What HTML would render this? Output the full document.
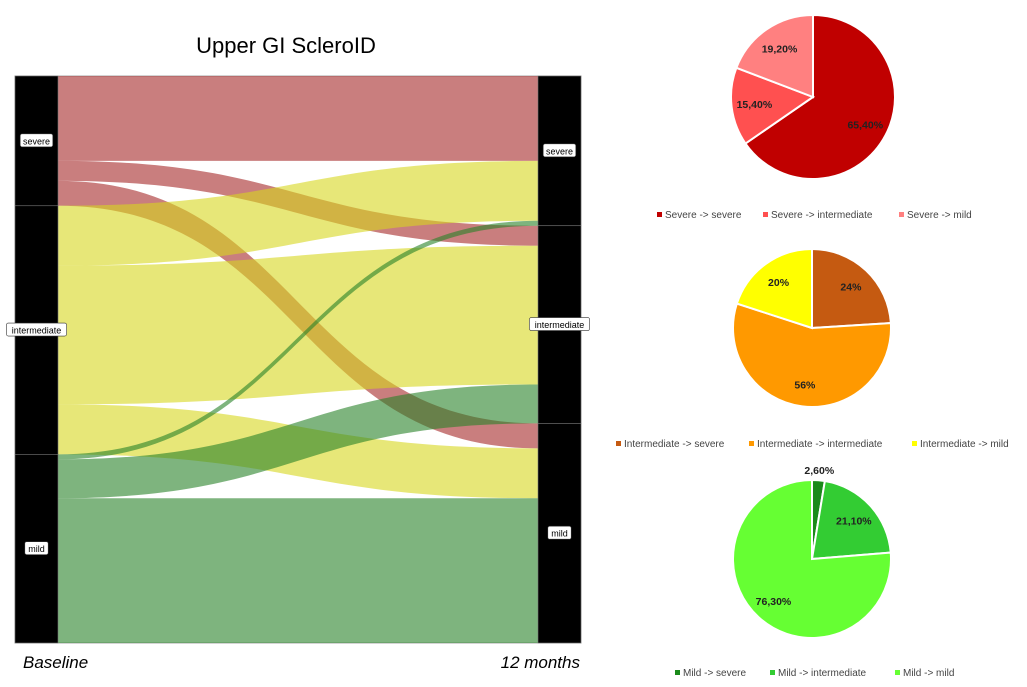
<!DOCTYPE html>
<html><head><meta charset="utf-8"><style>
body{margin:0;background:#fff;width:1027px;height:687px;overflow:hidden;font-family:"Liberation Sans",sans-serif}
svg{display:block}
</style></head><body>
<svg id="s" width="1027" height="687" xmlns="http://www.w3.org/2000/svg">
<text x="286" y="53" text-anchor="middle" font-size="22" font-family="Liberation Sans, sans-serif" fill="#000">Upper GI ScleroID</text>
<rect x="15" y="76" width="566" height="567" fill="none" stroke="#aaa" stroke-width="1"/>
<g id="flows"></g>
<g id="nodes"></g>
<text x="23" y="668" font-size="17" font-style="italic" font-family="Liberation Sans, sans-serif">Baseline</text>
<text x="580" y="668" text-anchor="end" font-size="17" font-style="italic" font-family="Liberation Sans, sans-serif">12 months</text>
<g id="pies"></g>
</svg>
<script>
// Sankey data (patients, in flow units)
const stages = ["severe","intermediate","mild"];
const flowFrom = ["severe","severe","severe","intermediate","intermediate","intermediate","mild","mild","mild"];
const flowTo   = ["severe","intermediate","mild","severe","intermediate","mild","severe","intermediate","mild"];
const flowValues = [85,20,25,60,139,50,5,39,145];
// Pie data
const pieTitles = ["severe","intermediate","mild"];
const pie1Values = [65.4,15.4,19.2];
const pie2Values = [24,56,20];
const pie3Values = [2.6,21.1,76.3];
const pie1Labels = ["65,40%","15,40%","19,20%"];
const pie2Labels = ["24%","56%","20%"];
const pie3Labels = ["2,60%","21,10%","76,30%"];
const pie1Legend = ["Severe -> severe","Severe -> intermediate","Severe -> mild"];
const pie2Legend = ["Intermediate -> severe","Intermediate -> intermediate","Intermediate -> mild"];
const pie3Legend = ["Mild -> severe","Mild -> intermediate","Mild -> mild"];

const NS="http://www.w3.org/2000/svg";
function mk(t,a,p){const e=document.createElementNS(NS,t);for(const k in a)e.setAttribute(k,a[k]);p.appendChild(e);return e;}
const top0=76,bot0=643,xL=58,xR=538;
const total=flowValues.reduce((a,b)=>a+b,0);
const sc=(bot0-top0)/total;
const leftTot={},rightTot={};
stages.forEach(s=>{leftTot[s]=0;rightTot[s]=0;});
flowValues.forEach((v,i)=>{leftTot[flowFrom[i]]+=v;rightTot[flowTo[i]]+=v;});
const leftY={},rightY={};let yl=top0,yr=top0;
stages.forEach(s=>{leftY[s]=yl;yl+=leftTot[s]*sc;rightY[s]=yr;yr+=rightTot[s]*sc;});
const colors={severe:"rgba(165,40,40,0.6)",intermediate:"rgba(215,215,30,0.6)",mild:"rgba(40,130,40,0.6)"};
const lc={},rc={};stages.forEach(s=>{lc[s]=leftY[s];rc[s]=rightY[s];});
const fg=document.getElementById('flows');
const order=[];stages.forEach(t=>flowValues.forEach((v,i)=>{if(flowTo[i]===t)order.push(i);}));
const rStart={};order.forEach(i=>{rStart[i]=rc[flowTo[i]];rc[flowTo[i]]+=flowValues[i]*sc;});
flowValues.forEach((v,i)=>{
  const h=v*sc,y0=lc[flowFrom[i]];lc[flowFrom[i]]+=h;const y1=rStart[i];
  const mx=(xL+xR)/2;
  const d=`M${xL},${y0} C${mx},${y0} ${mx},${y1} ${xR},${y1} L${xR},${y1+h} C${mx},${y1+h} ${mx},${y0+h} ${xL},${y0+h} Z`;
  const p=mk('path',{d:d,fill:colors[flowFrom[i]]},fg);
  
  
});
const ng=document.getElementById('nodes');
stages.forEach(s=>{
  [[15,leftY[s],leftTot[s],'left'],[538,rightY[s],rightTot[s],'right']].forEach(([x,y,t,side])=>{
    const h=t*sc;
    const r=mk('rect',{x:x,y:y,width:43,height:h,fill:'#000',stroke:'#777','stroke-width':0.6},ng);
    
    
    const cy=y+h/2, w=s.length*4.6+5;
    const cx=x+21.5;
    const b=mk('rect',{x:cx-w/2,y:cy-7,width:w,height:13,rx:2,fill:'#fff',stroke:'#333','stroke-width':0.6},ng);
    
    
    const tx=mk('text',{x:cx,y:cy+3.5,'text-anchor':'middle','font-size':9,fill:'#000'},ng);
    tx.textContent=s;
    
    
  });
});
const pg=document.getElementById('pies');
const pies=[
 {v:pie1Values,l:pie1Labels,g:pie1Legend,c:["#c00000","#ff5050","#ff8080"],cx:813,cy:97,r:82,ly:217,lx:[657,763,899]},
 {v:pie2Values,l:pie2Labels,g:pie2Legend,c:["#c55a11","#ff9900","#ffff00"],cx:812,cy:328,r:79,ly:446,lx:[616,749,912]},
 {v:pie3Values,l:pie3Labels,g:pie3Legend,c:["#1a8a1a","#33cc33","#66ff33"],cx:812,cy:559,r:79,ly:675,lx:[675,770,895]}
];
pies.forEach((P,pi)=>{
  const tot=P.v.reduce((a,b)=>a+b,0);let a0=0;
  P.v.forEach((v,i)=>{
    const a1=a0+v/tot*2*Math.PI;
    const x0=P.cx+P.r*Math.sin(a0),y0=P.cy-P.r*Math.cos(a0),x1=P.cx+P.r*Math.sin(a1),y1=P.cy-P.r*Math.cos(a1);
    const large=(a1-a0)>Math.PI?1:0;
    const s=mk('path',{d:`M${P.cx},${P.cy} L${x0},${y0} A${P.r},${P.r} 0 ${large} 1 ${x1},${y1} Z`,fill:P.c[i],stroke:'#fff','stroke-width':2},pg);
    
    
    const am=(a0+a1)/2,f=(v/tot<0.05)?1.13:0.72;
    const t=mk('text',{x:P.cx+P.r*f*Math.sin(am),y:P.cy-P.r*f*Math.cos(am)+4,'text-anchor':'middle','font-size':10.5,'font-weight':'bold',fill:'#222'},pg);
    t.textContent=P.l[i];
    
    
    a0=a1;
  });
  P.g.forEach((g,i)=>{
    const m=mk('rect',{x:P.lx[i],y:P.ly-5,width:5,height:5,fill:P.c[i]},pg);
    
    
    const t=mk('text',{x:P.lx[i]+8,y:P.ly+1,'font-size':10,fill:'#444'},pg);
    t.textContent=g;
    
    
  });
});
</script>
</body></html>
